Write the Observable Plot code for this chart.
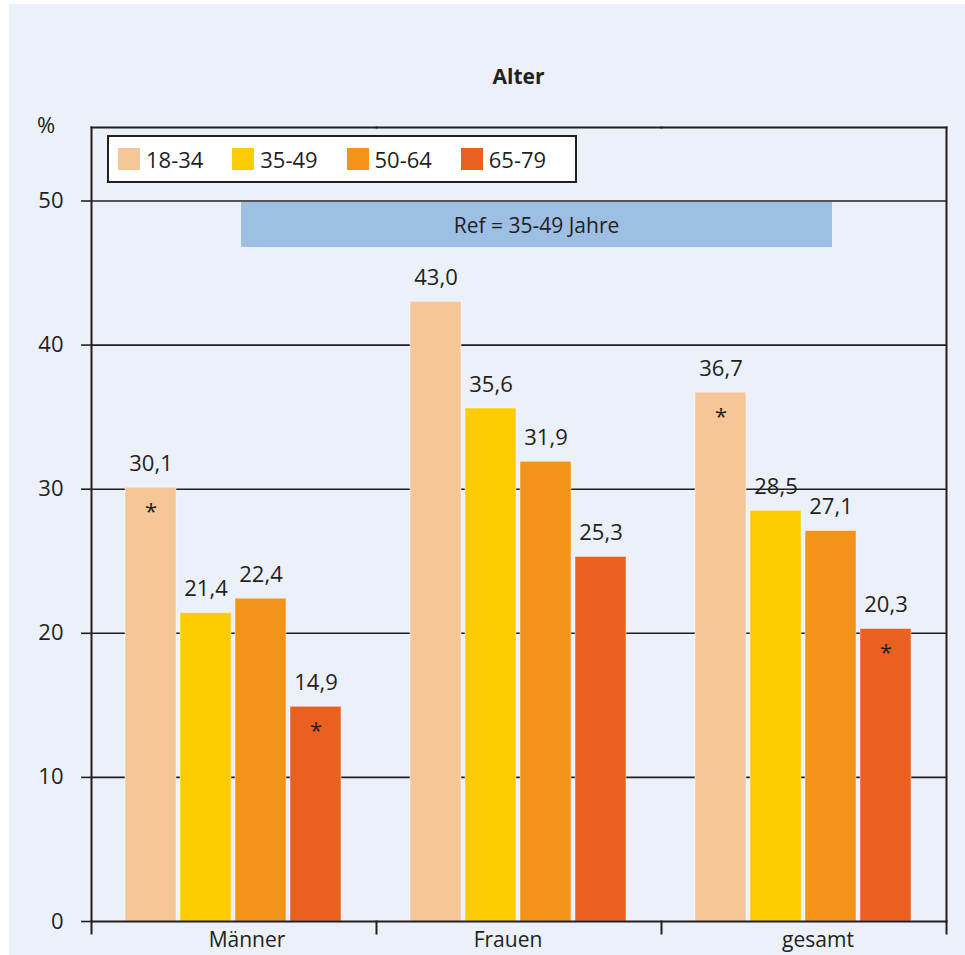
<!DOCTYPE html>
<html lang="de">
<head>
<meta charset="utf-8">
<title>Alter</title>
<script src="https://cdn.jsdelivr.net/npm/d3@7"></script>
<script src="https://cdn.jsdelivr.net/npm/@observablehq/plot@0.6"></script>
<style>
  html, body { margin: 0; padding: 0; background: #ffffff; }
  body { width: 965px; height: 955px; position: relative; overflow: hidden;
         font-family: "Open Sans", "Noto Sans", sans-serif; color: #231f20; }
  #panel { position: absolute; left: 9px; top: 4px; right: 0; bottom: 0; background: #ebf0f9; }
  #chart { position: absolute; left: 0; top: 0; }
  #title { position: absolute; left: 91px; width: 855px; top: 62px; text-align: center;
           font-weight: 700; font-size: 21px; }
  #unit { position: absolute; left: 37px; top: 109px; font-size: 22px; }
  #ref { position: absolute; left: 241px; top: 202px; width: 591px; height: 45px;
         background: #9dbfe4; display: flex; align-items: center; justify-content: center;
         font-size: 21px; }
  #legend { position: absolute; left: 107px; top: 135px; width: 457px; height: 44px;
            background: #ffffff; border: 2px solid #231f20; display: flex; align-items: center;
            padding-left: 9px; box-sizing: content-box; }
  .item { display: flex; align-items: center; width: 115px; font-size: 22px; }
  .swatch { width: 22px; height: 22px; margin-right: 6px; }
</style>
</head>
<body>
<div id="panel"></div>
<div id="chart"></div>
<div id="title">Alter</div>
<div id="unit">%</div>
<div id="ref">Ref = 35-49 Jahre</div>
<div id="legend"></div>
<script>
// Categories, age groups and shares (%)
const categories = ["Männer", "Frauen", "gesamt"];
const ageGroups = ["18-34", "35-49", "50-64", "65-79"];
const maenner = [30.1, 21.4, 22.4, 14.9];
const frauen = [43.0, 35.6, 31.9, 25.3];
const gesamt = [36.7, 28.5, 27.1, 20.3];
// significant difference to the reference group (35-49)
const maennerSig = [true, false, false, true];
const frauenSig = [false, false, false, false];
const gesamtSig = [true, false, false, true];
const yTicks = [0, 10, 20, 30, 40, 50];
const ageColors = ["#f5c697", "#fccc00", "#f39319", "#e96020"];

const series = [maenner, frauen, gesamt];
const sigs = [maennerSig, frauenSig, gesamtSig];
const rows = categories.flatMap((category, i) =>
  ageGroups.map((age, j) => ({category, age, value: series[i][j], sig: sigs[i][j]}))
);
const fmt = v => v.toFixed(1).replace(".", ",");
const ink = "#231f20";

// legend
const legend = document.getElementById("legend");
ageGroups.forEach((age, i) => {
  const item = document.createElement("div");
  item.className = "item";
  const sw = document.createElement("span");
  sw.className = "swatch";
  sw.style.background = ageColors[i];
  item.appendChild(sw);
  item.appendChild(document.createTextNode(age));
  legend.appendChild(item);
});

const labelShift = [13, -11, 14];

const chart = Plot.plot({
  width: 965,
  height: 955,
  marginLeft: 91,
  marginRight: 19,
  marginTop: 127,
  marginBottom: 34,
  style: {background: "transparent", fontFamily: "'Open Sans', 'Noto Sans', sans-serif", fontSize: "22px", color: ink},
  fx: {domain: categories, padding: 0, axis: null},
  x: {domain: ageGroups, paddingInner: 0.065, paddingOuter: 0.6, axis: null},
  y: {domain: [0, 55.1], axis: null},
  color: {domain: ageGroups, range: ageColors},
  marks: [
    Plot.ruleY(yTicks.filter(t => t > 0), {stroke: ink, strokeWidth: 1.6}),
    Plot.barY(rows, {fx: "category", x: "age", y: "value", fill: "age",
      stroke: "#ffffff", strokeOpacity: 0.45, strokeWidth: 1}),
    Plot.text(rows, {fx: "category", x: "age", y: "value", text: d => fmt(d.value),
      dy: -24, fontSize: 22, fill: ink, lineAnchor: "middle"}),
    Plot.text(rows.filter(d => d.sig), {fx: "category", x: "age", y: "value", text: () => "*",
      dy: 24, fontSize: 22, fill: ink, lineAnchor: "middle"}),
    Plot.axisY({ticks: yTicks, tickSize: 10, tickPadding: 18, anchor: "left", label: null,
      tickFormat: d => String(d), fontSize: 22, stroke: ink, strokeWidth: 1.6, fill: ink}),
    Plot.ruleY([0], {stroke: ink, strokeWidth: 2}),
    Plot.frame({anchor: "top", stroke: ink, strokeWidth: 2}),
    Plot.frame({anchor: "left", facetAnchor: "left", stroke: ink, strokeWidth: 2}),
    Plot.frame({anchor: "right", facetAnchor: "right", stroke: ink, strokeWidth: 2}),
    // category separators below the baseline
    Plot.frame({anchor: "left", insetTop: 794, insetBottom: -12, stroke: ink, strokeWidth: 2}),
    Plot.frame({anchor: "right", facetAnchor: "right", insetTop: 794, insetBottom: -12, stroke: ink, strokeWidth: 2}),
    ...categories.map((c, i) => Plot.text([c], {fx: d => d, text: d => d, frameAnchor: "bottom",
      dy: 19, dx: labelShift[i], fontSize: 21, fill: ink, lineAnchor: "middle"}))
  ]
});
document.getElementById("chart").appendChild(chart);
</script>
</body>
</html>
